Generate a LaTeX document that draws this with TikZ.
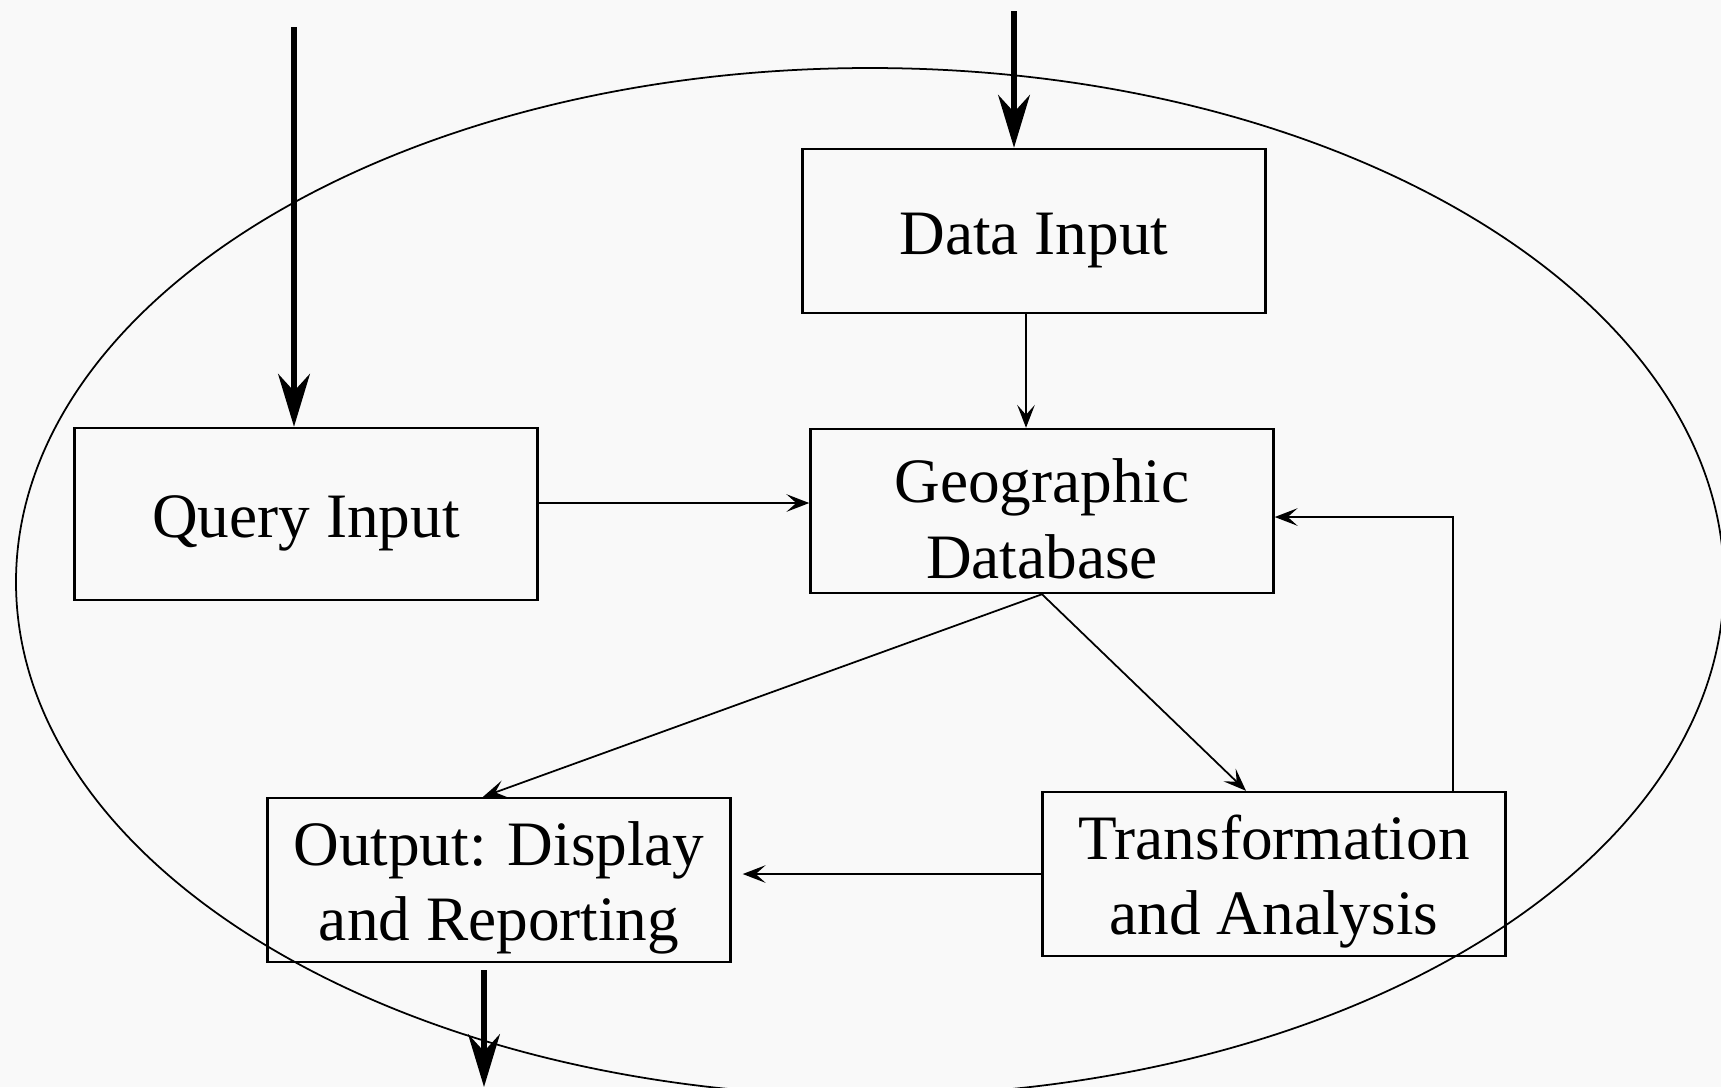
\documentclass[tikz,border=0pt]{standalone}
\usepackage{fontspec}
\setmainfont{Liberation Serif}
\usetikzlibrary{arrows.meta}
\newcommand{\upstrut}{\rule{0pt}{17pt}}
\begin{document}
\begin{tikzpicture}[>={Stealth[length=6.5pt,width=5pt,inset=2.8pt]}, line width=0.5pt,
    box/.style={draw, line width=0.7pt, minimum width=4.63cm, minimum height=1.64cm,
      inner sep=0pt, align=center, font=\fontsize{18}{21.5}\selectfont},
    flow/.style={line width=1.8pt, -{Stealth[length=15pt,width=9pt]}}]
        \fill[gray!5] (0,0) rectangle (17.21,-10.87);
        \useasboundingbox (0,0) rectangle (17.21,-10.87);
        \draw (8.70,-5.82) ellipse [x radius=8.54, y radius=5.14];

        \node[box, minimum height=1.72cm] (Q) at (3.06,-5.14) {\upstrut Query Input};
        \node[box] (DI) at (10.34,-2.31) {\upstrut Data Input};
        \node[box] (GD) at (10.42,-5.11) {\upstrut Geographic\\Database};
        \node[box] (O) at (4.99,-8.80) {\upstrut Output: Display\\and Reporting};
        \node[box] (TA) at (12.74,-8.74) {\upstrut Transformation\\and Analysis};

        \coordinate (in1) at (2.94,-0.27);
        \coordinate (in2) at (10.14,-0.11);
        \coordinate (out) at (4.84,-10.87);

        \draw[flow] (in1) -- (in1 |- Q.north);
        \draw[flow] (in2) -- (in2 |- DI.north);
        \draw[flow, shorten <=2pt] (out |- O.south) -- (out);

        \draw[->] ([xshift=-0.8mm]DI.south) -- ([xshift=-0.8mm]DI.south |- GD.north);
        \draw[->] ([yshift=1.1mm]Q.east) -- ([yshift=1.1mm]Q.east -| GD.west);
        \draw[->] (GD.south) -- ([xshift=-1.6mm]O.north);
        \draw[->] (GD.south) -- ([xshift=-2.8mm]TA.north);
        \draw[->, shorten >=1.1mm] (TA.west) -- (TA.west -| O.east);
        \draw[->] ([xshift=-5.4mm]TA.north east) |- ([yshift=-0.6mm]GD.east);
      \end{tikzpicture}
\end{document}
